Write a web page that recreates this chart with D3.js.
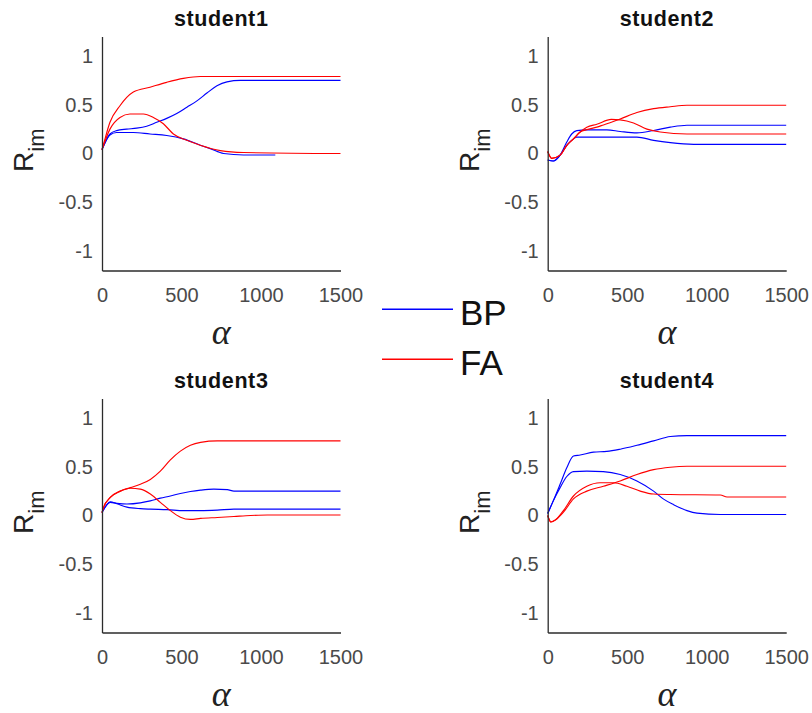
<!DOCTYPE html>
<html><head><meta charset="utf-8">
<script src="https://cdn.jsdelivr.net/npm/d3@7"></script>
<style>body{margin:0;background:#fff} svg{display:block}</style>
</head><body><svg id="chart" width="812" height="713"></svg>
<script>
// ---- axis ticks / labels ----
const xTicks = [0, 500, 1000, 1500];
const xTickLabels = ["0", "500", "1000", "1500"];
const yTicks = [-1, -0.5, 0, 0.5, 1];
const yTickLabels = ["-1", "-0.5", "0", "0.5", "1"];
const panelTitles = ["student1", "student2", "student3", "student4"];
const seriesNames = ["BP", "FA"];
const seriesColors = ["#0000ff", "#ff0000"];

// ---- student1 ----
const s1_bp1_alpha = [0, 50, 92, 155, 218, 281, 344, 407, 470, 534, 597, 660, 723, 786, 870, 1500];
const s1_bp1_r     = [0.04, 0.20, 0.235, 0.25, 0.26, 0.28, 0.32, 0.36, 0.41, 0.475, 0.54, 0.62, 0.695, 0.735, 0.75, 0.75];
const s1_bp2_alpha = [0, 50, 92, 197, 302, 407, 512, 618, 681, 765, 890, 1090];
const s1_bp2_r     = [0.04, 0.19, 0.215, 0.215, 0.20, 0.185, 0.15, 0.085, 0.05, 0.0, -0.015, -0.015];
const s1_fa1_alpha = [0, 8, 50, 113, 197, 302, 407, 512, 618, 1500];
const s1_fa1_r     = [0.04, 0.085, 0.32, 0.49, 0.63, 0.68, 0.73, 0.77, 0.79, 0.79];
const s1_fa2_alpha = [0, 50, 113, 176, 260, 323, 386, 449, 534, 618, 744, 890, 1500];
const s1_fa2_r     = [0.04, 0.25, 0.37, 0.405, 0.405, 0.37, 0.305, 0.20, 0.135, 0.085, 0.03, 0.01, 0.0];

// ---- student2 ----
const s2_bp1_alpha = [0, 35, 78, 120, 151, 183, 246, 372, 456, 561, 666, 771, 876, 1500];
const s2_bp1_r     = [-0.067, -0.077, -0.017, 0.118, 0.20, 0.235, 0.242, 0.242, 0.226, 0.212, 0.236, 0.27, 0.29, 0.29];
const s2_bp2_alpha = [0, 35, 78, 120, 162, 183, 561, 666, 771, 918, 1500];
const s2_bp2_r     = [-0.067, -0.077, -0.017, 0.084, 0.15, 0.168, 0.168, 0.135, 0.111, 0.094, 0.094];
const s2_fa1_alpha = [0, 25, 78, 120, 162, 204, 246, 309, 350, 456, 561, 666, 771, 876, 1500];
const s2_fa1_r     = [0.02, -0.05, -0.017, 0.084, 0.15, 0.22, 0.245, 0.27, 0.293, 0.354, 0.42, 0.46, 0.48, 0.495, 0.495];
const s2_fa2_alpha = [0, 25, 78, 120, 162, 204, 246, 309, 400, 456, 540, 624, 708, 876, 1500];
const s2_fa2_r     = [0.02, -0.05, -0.017, 0.084, 0.15, 0.22, 0.27, 0.30, 0.35, 0.345, 0.313, 0.25, 0.22, 0.20, 0.20];

// ---- student3 ----
const s3_bp1_alpha = [0, 52, 94, 157, 241, 304, 367, 430, 493, 556, 620, 703, 788, 830, 1500];
const s3_bp1_r     = [0.03, 0.135, 0.125, 0.118, 0.13, 0.15, 0.178, 0.20, 0.226, 0.246, 0.26, 0.27, 0.265, 0.25, 0.25];
const s3_bp2_alpha = [0, 52, 94, 157, 241, 304, 410, 514, 620, 725, 830, 1500];
const s3_bp2_r     = [0.03, 0.14, 0.12, 0.086, 0.07, 0.065, 0.06, 0.05, 0.05, 0.055, 0.065, 0.065];
const s3_fa1_alpha = [0, 10, 52, 115, 178, 241, 304, 367, 430, 493, 556, 620, 725, 1500];
const s3_fa1_r     = [0.03, 0.084, 0.185, 0.25, 0.286, 0.32, 0.37, 0.455, 0.57, 0.66, 0.72, 0.75, 0.765, 0.765];
const s3_fa2_alpha = [0, 10, 52, 115, 178, 241, 304, 367, 430, 493, 556, 620, 725, 830, 935, 1040, 1500];
const s3_fa2_r     = [0.03, 0.084, 0.185, 0.25, 0.28, 0.27, 0.22, 0.135, 0.05, -0.017, -0.04, -0.03, -0.02, -0.01, 0.0, 0.005, 0.005];

// ---- student4 ----
const s4_bp1_alpha = [0, 35, 78, 120, 162, 204, 288, 372, 456, 561, 666, 771, 876, 1500];
const s4_bp1_r     = [0.02, 0.15, 0.32, 0.49, 0.61, 0.62, 0.65, 0.657, 0.68, 0.72, 0.765, 0.81, 0.82, 0.82];
const s4_bp2_alpha = [0, 35, 78, 120, 162, 246, 350, 456, 561, 666, 729, 792, 876, 939, 1086, 1500];
const s4_bp2_r     = [0.02, 0.15, 0.286, 0.40, 0.45, 0.455, 0.45, 0.42, 0.354, 0.25, 0.168, 0.111, 0.05, 0.024, 0.01, 0.01];
const s4_fa1_alpha = [0, 20, 50, 99, 162, 246, 350, 456, 561, 666, 771, 876, 1500];
const s4_fa1_r     = [0.0, -0.067, -0.044, 0.034, 0.17, 0.25, 0.30, 0.354, 0.42, 0.47, 0.495, 0.505, 0.505];
const s4_fa2_alpha = [0, 20, 50, 99, 162, 246, 330, 414, 498, 582, 666, 771, 1086, 1128, 1500];
const s4_fa2_r     = [0.0, -0.067, -0.044, 0.05, 0.20, 0.30, 0.336, 0.336, 0.30, 0.25, 0.22, 0.215, 0.21, 0.19, 0.19];

const panelsData = [
  [[s1_bp1_alpha, s1_bp1_r, 0], [s1_bp2_alpha, s1_bp2_r, 0], [s1_fa1_alpha, s1_fa1_r, 1], [s1_fa2_alpha, s1_fa2_r, 1]],
  [[s2_bp1_alpha, s2_bp1_r, 0], [s2_bp2_alpha, s2_bp2_r, 0], [s2_fa1_alpha, s2_fa1_r, 1], [s2_fa2_alpha, s2_fa2_r, 1]],
  [[s3_bp1_alpha, s3_bp1_r, 0], [s3_bp2_alpha, s3_bp2_r, 0], [s3_fa1_alpha, s3_fa1_r, 1], [s3_fa2_alpha, s3_fa2_r, 1]],
  [[s4_bp1_alpha, s4_bp1_r, 0], [s4_bp2_alpha, s4_bp2_r, 0], [s4_fa1_alpha, s4_fa1_r, 1], [s4_fa2_alpha, s4_fa2_r, 1]]
];

// ---- layout ----
const svg = d3.select("#chart");
const panelPos = [{l: 102, t: 36}, {l: 547.7, t: 36}, {l: 102, t: 398}, {l: 547.7, t: 398}];
const pw = 238.5, ph = 234.5;
const sans = "'Liberation Sans', Arial, Helvetica, sans-serif";

panelPos.forEach((p, i) => {
  const x = d3.scaleLinear().domain([0, 1500]).range([p.l, p.l + pw]);
  const y = d3.scaleLinear().domain([-1.2, 1.2]).range([p.t + ph, p.t + 0.5]);
  const g = svg.append("g");

  // lines
  const line = d3.line().x(d => x(d[0])).y(d => y(d[1])).curve(d3.curveMonotoneX);
  panelsData[i].forEach(([al, rv, s]) => {
    const pts = al.map((a, k) => [a, rv[k]]);
    g.append("path").datum(pts).attr("d", line)
      .attr("fill", "none").attr("stroke", seriesColors[s]).attr("stroke-width", 1.15);
  });

  // axes
  const ax = g.append("g").attr("transform", `translate(0,${p.t + ph})`)
    .call(d3.axisBottom(x).tickValues(xTicks).tickSize(0).tickPadding(17)
      .tickFormat((d, k) => xTickLabels[k]));
  const ay = g.append("g").attr("transform", `translate(${p.l},0)`)
    .call(d3.axisLeft(y).tickValues(yTicks).tickSize(0).tickPadding(9)
      .tickFormat((d, k) => yTickLabels[k]));
  [ax, ay].forEach(a => {
    a.select(".domain").attr("stroke", "#2b2b2b").attr("stroke-width", 1.3);
    a.selectAll("text").attr("font-family", sans).attr("font-size", 20).attr("fill", "#4a4a4a");
  });

  // title
  g.append("text").attr("x", p.l + pw / 2).attr("y", p.t - 10)
    .attr("text-anchor", "middle").attr("font-family", sans).attr("font-weight", "bold")
    .attr("font-size", 21.5).attr("letter-spacing", 0.6).attr("fill", "#111").text(panelTitles[i]);

  // x label
  g.append("text").attr("x", p.l + pw / 2).attr("y", p.t + ph + 73)
    .attr("text-anchor", "middle").attr("font-family", "'Liberation Serif', 'Times New Roman', serif")
    .attr("font-style", "italic").attr("font-size", 36).attr("fill", "#222").text("α");

  // y label
  const yl = g.append("text").attr("transform", `translate(${p.l - 69},${p.t + ph / 2 - 3}) rotate(-90)`)
    .attr("text-anchor", "middle").attr("font-family", sans).attr("fill", "#222");
  yl.append("tspan").attr("font-size", 28).text("R");
  yl.append("tspan").attr("font-size", 22).attr("dy", 11).text("im");
});

// legend
const legendY = [309.3, 359.3];
seriesNames.forEach((n, k) => {
  svg.append("line").attr("x1", 382).attr("x2", 453).attr("y1", legendY[k]).attr("y2", legendY[k])
    .attr("stroke", seriesColors[k]).attr("stroke-width", 1.5);
  svg.append("text").attr("x", 460).attr("y", legendY[k] + 16).attr("font-family", sans)
    .attr("font-size", 35).attr("fill", "#111").text(n);
});
</script></body></html>
